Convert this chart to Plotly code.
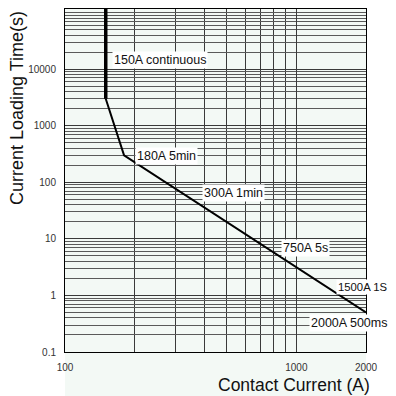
import plotly.graph_objects as go

# ---- data ----
continuous_current_A = [150, 150]
continuous_time_s = [200000, 3000]
curve_current_A = [150, 180, 2000]
curve_time_s = [3000, 300, 0.5]

y_tick_vals = [0.1, 1, 10, 100, 1000, 10000]
y_tick_text = ["0.1", "1", "10", "100", "1000", "10000"]
x_tick_vals = [100, 1000, 2000]
x_tick_text = ["100", "1000", "2000"]
x_minor_grid = [200, 300, 400, 500, 600, 700, 800, 900]
y_minor_grid = [k * 10.0 ** e for e in range(-1, 6) for k in range(1, 10)]

point_labels = ["150A continuous", "180A 5min", "300A 1min", "750A 5s", "1500A 1S", "2000A 500ms"]

MINT = "#f3f9f5"
GRID = "#3a3a3a"
FONT = "Liberation Sans, Arial, sans-serif"

fig = go.Figure()
fig.add_trace(go.Scatter(x=continuous_current_A, y=continuous_time_s, mode="lines",
                         line=dict(color="black", width=3.5), showlegend=False, hoverinfo="skip"))
fig.add_trace(go.Scatter(x=curve_current_A, y=curve_time_s, mode="lines",
                         line=dict(color="black", width=2), showlegend=False, hoverinfo="skip"))

# label placement (paper coords) and sizes
label_pos = [(0.156, 0.851), (0.2326, 0.5714), (0.455, 0.465), (0.7176, 0.3032), (0.9, 0.1895), (0.8106, 0.0845)]
label_size = [12.5, 12.5, 12.5, 12.5, 11.3, 12.5]
annotations = []
for txt, (px, py), fs in zip(point_labels, label_pos, label_size):
    annotations.append(dict(text=txt, xref="paper", yref="paper", x=px, y=py, xanchor="left",
                            yanchor="middle", showarrow=False, bgcolor="white", borderpad=1,
                            font=dict(size=fs, color="#111", family=FONT)))
annotations.append(dict(text="Current Loading Time(s)", xref="paper", yref="paper", x=-0.1595, y=0.711,
                        textangle=-90, showarrow=False, xanchor="center", yanchor="middle",
                        font=dict(size=18, color="#111", family=FONT)))
annotations.append(dict(text="Contact Current (A)", xref="paper", yref="paper", x=0.761, y=-0.096,
                        showarrow=False, xanchor="center", yanchor="middle",
                        font=dict(size=17.5, color="#111", family=FONT)))

# page has an 8px body margin: figure 388x388 fills the 396 window
fig.update_layout(
    width=388, height=388,
    margin=dict(l=57, r=30, t=1, b=44),
    paper_bgcolor="white", plot_bgcolor=MINT,
    annotations=annotations,
    shapes=[dict(type="rect", xref="paper", yref="paper", x0=0, x1=1, y0=-0.13, y1=0,
                 fillcolor=MINT, line=dict(width=0), layer="below")],
    font=dict(family=FONT),
)
fig.update_xaxes(type="log", range=[2, 3.30103], tickvals=x_tick_vals, ticktext=x_tick_text,
                 ticks="", ticklabelstandoff=6, tickfont=dict(size=10, color="#333"),
                 showgrid=True, gridcolor=GRID, gridwidth=1,
                 minor=dict(tickvals=x_minor_grid, showgrid=True, gridcolor=GRID, gridwidth=1, ticks=""),
                 showline=True, linecolor="black", linewidth=1, mirror=True, zeroline=False)
fig.update_yaxes(type="log", range=[-1, 5.065], tickvals=y_tick_vals, ticktext=y_tick_text,
                 ticks="", ticklabelstandoff=6, tickfont=dict(size=10, color="#333"),
                 showgrid=True, gridcolor=GRID, gridwidth=1,
                 minor=dict(tickvals=y_minor_grid, showgrid=True, gridcolor="#5a5a5a", gridwidth=1, ticks=""),
                 showline=True, linecolor="black", linewidth=1, mirror=True, zeroline=False)

fig.write_html("out.html")
